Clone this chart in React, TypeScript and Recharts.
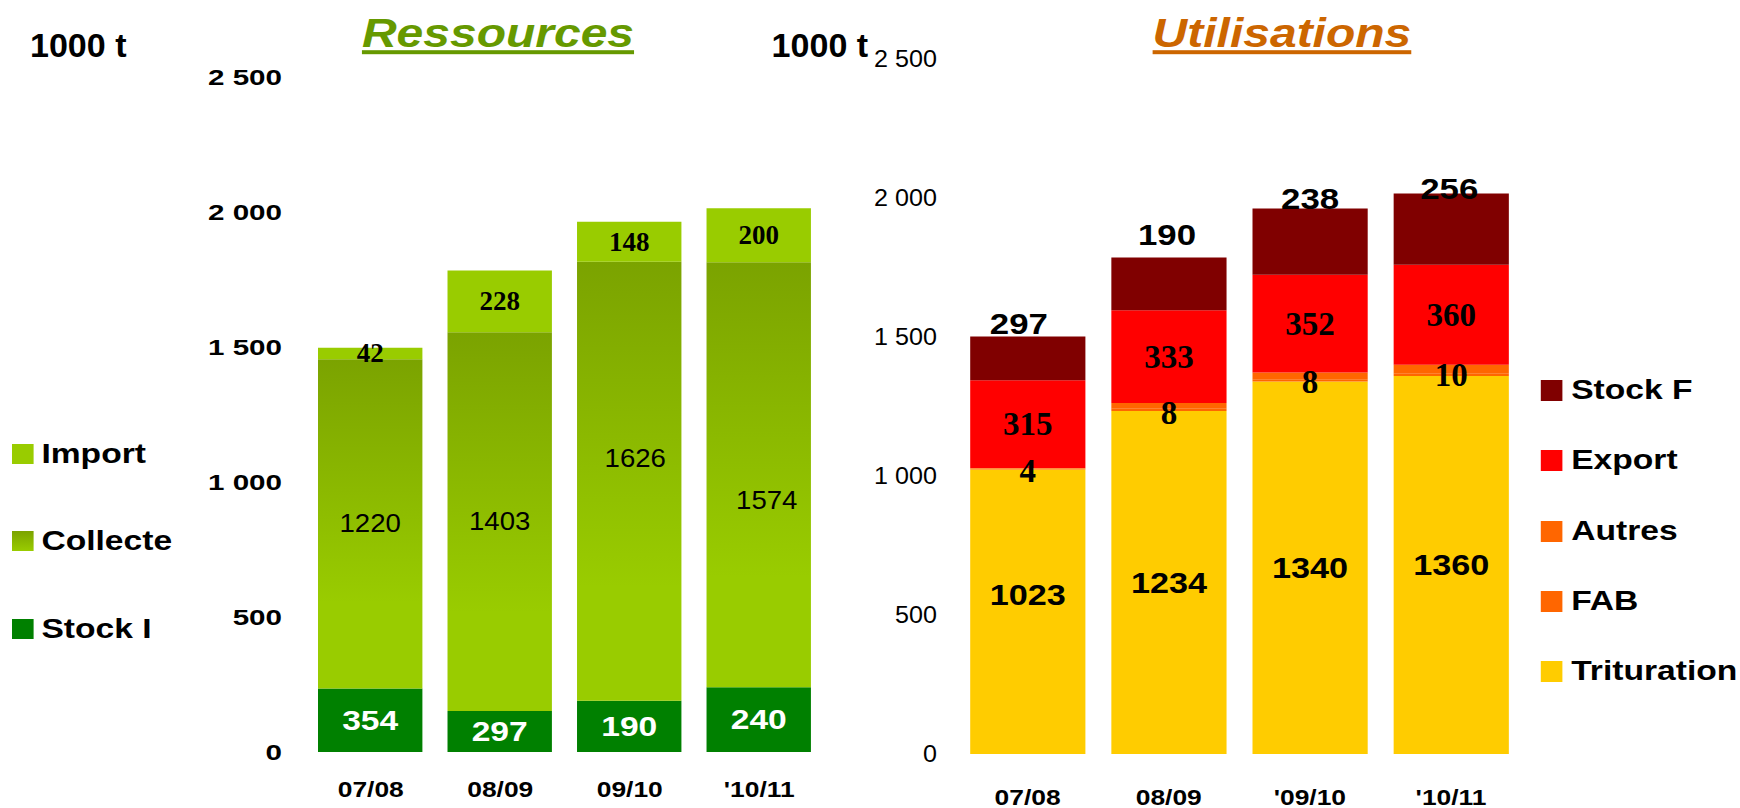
import { BarChart, Bar, XAxis, YAxis, LabelList } from "recharts";

// the original slide is stretched sideways, so everything is drawn narrower and scaled back out
const S = 1.2;
const SANS = "'Liberation Sans', Arial, sans-serif";
const SERIF = "'Liberation Serif', 'Times New Roman', serif";

const seasonsLeft = ["07/08", "08/09", "09/10", "'10/11"];
const seasonsRight = ["07/08", "08/09", "'09/10", "'10/11"];
const yTicks = [0, 500, 1000, 1500, 2000, 2500];

// Ressources (bar heights as drawn, printed labels kept apart where they differ)
const stockI = [235, 152, 190, 240];
const stockILabels = ["354", "297", "190", "240"];
const collecte = [1220, 1403, 1626, 1574];
const imports = [42, 228, 148, 200];

// Utilisations
const trituration = [1023, 1234, 1340, 1360];
const fab = [4, 8, 8, 10];
const autres = [2, 21, 24, 30];
const exports = [315, 333, 352, 360];
const stockF = [158, 190, 238, 256];
const stockFLabels = ["297", "190", "238", "256"];

const leftData = seasonsLeft.map((season, i) => ({
  season,
  stockI: stockI[i],
  collecte: collecte[i],
  import: imports[i],
}));

const rightData = seasonsRight.map((season, i) => ({
  season,
  trituration: trituration[i],
  fab: fab[i],
  autres: autres[i],
  export: exports[i],
  stockF: stockF[i],
}));

const leftLegend = [
  { name: "Import", color: "#99cc00" },
  { name: "Collecte", color: "linear-gradient(#7ba300, #99cc00)" },
  { name: "Stock I", color: "#008000" },
];

const rightLegend = [
  { name: "Stock F", color: "#800000" },
  { name: "Export", color: "#ff0000" },
  { name: "Autres", color: "#ff6600" },
  { name: "FAB", color: "#ff6600" },
  { name: "Trituration", color: "#ffcc00" },
];

const fmt = (v: number) =>
  v >= 1000 ? `${Math.floor(v / 1000)} ${String(v % 1000).padStart(3, "0")}` : String(v);

// text drawn at (x, y) with its own horizontal squeeze k
function Txt({ x, y, k = 1, children, ...rest }: any) {
  return (
    <text transform={`translate(${x} ${y}) scale(${k} 1)`} x={0} y={0} {...rest}>
      {children}
    </text>
  );
}

type LabelStyle = {
  fill: string;
  size: number;
  k?: number;
  weight?: string;
  serif?: boolean;
  texts?: string[];
  dx?: number[];
  dy?: number[];
  above?: number[];
};

function segmentLabel(s: LabelStyle) {
  return (props: any) => {
    const vb = props.viewBox ?? props;
    const i = props.index ?? 0;
    const x = Number(vb.x ?? props.x) + Number(vb.width ?? props.width) / 2 + (s.dx?.[i] ?? 0) / S;
    const top = Number(vb.y ?? props.y);
    const h = Number(vb.height ?? props.height);
    const y = s.above ? top - s.above[i] : top + h / 2 + (s.dy?.[i] ?? 0);
    return (
      <Txt
        key={i}
        x={x}
        y={y}
        k={s.k ?? 1}
        textAnchor="middle"
        dominantBaseline="central"
        fill={s.fill}
        fontSize={s.size}
        fontWeight={s.weight ?? "normal"}
        fontFamily={s.serif ? SERIF : SANS}
      >
        {s.texts ? s.texts[i] : props.value}
      </Txt>
    );
  };
}

function yTick(weight: string, size: number, k: number) {
  return (p: any) => (
    <Txt x={p.x} y={p.y} k={k} textAnchor="end" dominantBaseline="central" fontFamily={SANS} fontSize={size} fontWeight={weight} fill="#000">
      {fmt(p.payload.value)}
    </Txt>
  );
}

const xTick = (p: any) => (
  <text x={p.x} y={p.y} textAnchor="middle" dominantBaseline="central" fontFamily={SANS} fontSize={22} fontWeight="bold" fill="#000">
    {p.payload.value}
  </text>
);

function Ressources() {
  return (
    <BarChart width={700} height={808} data={leftData} margin={{ top: 77, right: 13.3, bottom: 0, left: 0 }}>
      <defs>
        <linearGradient id="collecteGrad" x1="0" y1="0" x2="0" y2="1">
          <stop offset="0%" stopColor="#7ba300" />
          <stop offset="74%" stopColor="#99cc00" />
          <stop offset="100%" stopColor="#99cc00" />
        </linearGradient>
      </defs>
      <XAxis dataKey="season" axisLine={false} tickLine={false} tickSize={0} tickMargin={37} height={56} interval={0} tick={xTick} />
      <YAxis
        domain={[0, 2500]}
        ticks={yTicks}
        axisLine={false}
        tickLine={false}
        tickSize={0}
        tickMargin={20}
        width={255}
        tick={yTick("bold", 22, 1.12)}
      />
      <Bar dataKey="stockI" stackId="r" fill="#008000" barSize={87} isAnimationActive={false}>
        <LabelList dataKey="stockI" content={segmentLabel({ fill: "#fff", size: 28, weight: "bold", texts: stockILabels })} />
      </Bar>
      <Bar dataKey="collecte" stackId="r" fill="url(#collecteGrad)" barSize={87} isAnimationActive={false}>
        <LabelList
          dataKey="collecte"
          content={segmentLabel({ fill: "#000", size: 25, k: 0.92, dx: [0, 0, 6, 8], dy: [0, 0, -23, 26] })}
        />
      </Bar>
      <Bar dataKey="import" stackId="r" fill="#99cc00" barSize={87} isAnimationActive={false}>
        <LabelList dataKey="import" content={segmentLabel({ fill: "#000", size: 27, k: 1 / S, weight: "bold", serif: true })} />
      </Bar>
    </BarChart>
  );
}

function Utilisations() {
  return (
    <BarChart width={600} height={808} data={rightData} margin={{ top: 59, right: 32, bottom: 0, left: 0 }}>
      <XAxis dataKey="season" axisLine={false} tickLine={false} tickSize={0} tickMargin={43} height={54} interval={0} tick={xTick} />
      <YAxis
        domain={[0, 2500]}
        ticks={yTicks}
        axisLine={false}
        tickLine={false}
        tickSize={0}
        tickMargin={16.7}
        width={97.5}
        tick={yTick("normal", 23, 0.91)}
      />
      <Bar dataKey="trituration" stackId="u" fill="#ffcc00" barSize={96} isAnimationActive={false}>
        <LabelList
          dataKey="trituration"
          content={segmentLabel({ fill: "#000", size: 30, k: 0.95, weight: "bold", dy: [-17, 0, 0, 0] })}
        />
      </Bar>
      <Bar dataKey="fab" stackId="u" fill="#ff6600" barSize={96} isAnimationActive={false}>
        <LabelList
          dataKey="fab"
          content={segmentLabel({ fill: "#000", size: 33, k: 1 / S, weight: "bold", serif: true, dy: [2, 3, 2, 0] })}
        />
      </Bar>
      <Bar dataKey="autres" stackId="u" fill="#ff6600" barSize={96} isAnimationActive={false} />
      <Bar dataKey="export" stackId="u" fill="#ff0000" barSize={96} isAnimationActive={false}>
        <LabelList dataKey="export" content={segmentLabel({ fill: "#000", size: 33, k: 1 / S, weight: "bold", serif: true })} />
      </Bar>
      <Bar dataKey="stockF" stackId="u" fill="#800000" barSize={96} isAnimationActive={false}>
        <LabelList
          dataKey="stockF"
          content={segmentLabel({
            fill: "#000",
            size: 29,
            weight: "bold",
            texts: stockFLabels,
            above: [12, 22, 10, 5],
            dx: [-9, -2, 0, -2],
          })}
        />
      </Bar>
    </BarChart>
  );
}

function Legend({ items, x, ys, w, h }: { items: { name: string; color: string }[]; x: number; ys: number[]; w: number; h: number }) {
  return (
    <>
      {items.map((it, i) => (
        <div key={it.name}>
          <div style={{ position: "absolute", left: x, top: ys[i] - h / 2, width: w, height: h, background: it.color }} />
          <div
            style={{
              position: "absolute",
              left: x + w + 7,
              top: ys[i] - 16,
              height: 32,
              lineHeight: "32px",
              fontFamily: SANS,
              fontWeight: "bold",
              fontSize: 28,
              color: "#000",
              whiteSpace: "nowrap",
            }}
          >
            {it.name}
          </div>
        </div>
      ))}
    </>
  );
}

export default function App() {
  return (
    <div style={{ position: "absolute", left: 0, top: 0, width: 1740, height: 808, overflow: "hidden", background: "#fff" }}>
      <div
        style={{
          position: "absolute",
          left: 0,
          top: 0,
          width: 1740 / S,
          height: 808,
          transform: `scaleX(${S})`,
          transformOrigin: "0 0",
        }}
      >
        <svg width={1740 / S} height={808} style={{ position: "absolute", left: 0, top: 0 }}>
          <Txt x={25} y={57} k={0.86} fontFamily={SANS} fontWeight="bold" fontSize={33} fill="#000">1000 t</Txt>
          <Txt x={643} y={57} k={0.86} fontFamily={SANS} fontWeight="bold" fontSize={33} fill="#000">1000 t</Txt>
          <text
            x={415}
            y={47.5}
            textAnchor="middle"
            fontFamily={SANS}
            fontWeight="bold"
            fontStyle="italic"
            fontSize={40}
            fill="#669900"
            style={{ textDecoration: "underline" }}
          >
            Ressources
          </text>
          <text
            x={1068.3}
            y={47.5}
            textAnchor="middle"
            fontFamily={SANS}
            fontWeight="bold"
            fontStyle="italic"
            fontSize={40}
            fill="#cc6600"
            style={{ textDecoration: "underline" }}
          >
            Utilisations
          </text>
        </svg>
        <div style={{ position: "absolute", left: 0, top: 0 }}>
          <Ressources />
        </div>
        <div style={{ position: "absolute", left: 700, top: 0 }}>
          <Utilisations />
        </div>
        <Legend items={leftLegend} x={10} ys={[454, 541, 629]} w={17.5} h={20} />
        <Legend items={rightLegend} x={1284} ys={[390, 460, 531, 601, 671]} w={18.3} h={21} />
      </div>
    </div>
  );
}
